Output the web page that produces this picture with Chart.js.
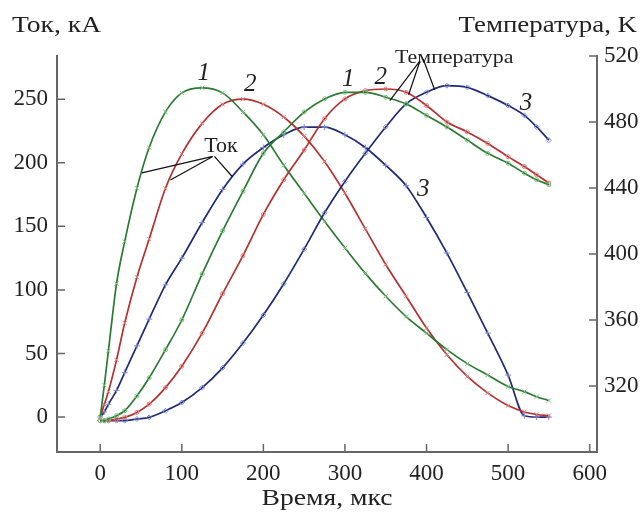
<!DOCTYPE html>
<html><head><meta charset="utf-8">
<script src="https://cdn.jsdelivr.net/npm/chart.js@4.4.0/dist/chart.umd.min.js"></script>
<style>html,body{margin:0;padding:0;background:#fff;}</style>
</head><body>
<canvas id="c" width="644" height="512"></canvas>
<script>
// ---- data ----
const time = [0,5,10,20,30,45,60,80,100,125,150,175,200,225,250,275,300,325,350,375,400,425,450,475,500,520,535,550];
// current, kA
const current1 = [0,25,52,105,138,180,212,240,255,259,255,240,222,198,176,154,133,113,95,79,66,53,42,33,24,20,16,13];
const current2 = [0,10,20,45,74,110,140,180,207,231,246,250,246,236,221,201,176,148,120,95,70,49,32,19,9,4,2,1];
const current3 = [0,4,10,21,35,56,77,104,125,153,179,199,212,222,228,228,222,212,198,182,157,129,98,66,33,1,0,0];
// temperature, K
const temp1 = [299,299,300,302,305,314,325,342,360,388,414,438,461,474,486,494,498,498,495,491,484,477,469,461,455,449,445,442];
const temp2 = [299,299,299,300,301,304,309,319,332,352,376,399,424,445,463,482,494,499,500,498,490,480,474,467,459,453,448,443];
const temp3 = [299,299,299,299,299,300,301,305,310,319,331,346,363,382,403,425,444,461,477,491,498,502,501,496,490,484,477,469];

const xTicks = [0,100,200,300,400,500,600];
const currentTicks = [0,50,100,150,200,250];
const tempTicks = [320,360,400,440,480,520];

const seriesNumbers = ['1','2','3'];
// label anchors (data coords)
const currentNumberPos = [[127,270],[184,262],[396,179]];
const tempNumberPos = [[304,506],[344,507],[522,491]];
const currentNote = {text:'Ток', at:[148,213], from:[[138,205],[138,205],[140,205]], to:[[51,192],[86,186.5],[162,189]]};
const tempNote = {text:'Температура', at:[434,519], from:[[392,517],[392,517],[396,518]], to:[[355,493],[378,496.5],[410,499.5]]};

const GREEN='#2a7a32', RED='#b5302e', BLUE='#1f2a78';
const GREEN_M='#7cbf7c', RED_M='#dc7f7f', BLUE_M='#7d89cc';
const FONT='"Liberation Serif", "DejaVu Serif", serif';

function pts(ys){ return time.map((t,i)=>({x:t,y:ys[i]})); }
function ds(label, ys, axis, col, mcol, style, r){
  return {label, data:pts(ys), yAxisID:axis, borderColor:col, backgroundColor:'rgba(255,255,255,0)',
    pointBorderColor:mcol, pointBackgroundColor:'rgba(255,255,255,0)', pointStyle:style, pointRadius:r,
    pointBorderWidth:1, borderWidth:1.7, showLine:true, fill:false,
    cubicInterpolationMode:'monotone'};
}

function wideText(ctx, s, x, y, align, sx){
  ctx.save();
  ctx.translate(x, y);
  ctx.scale(sx, 1);
  ctx.textAlign = align;
  ctx.fillText(s, 0, 0);
  ctx.restore();
}

const overlay = {
  id:'overlay',
  afterDraw(chart){
    const ctx=chart.ctx, x=chart.scales.x, y=chart.scales.y, y2=chart.scales.y2, ca=chart.chartArea;
    ctx.save();
    // inward tick marks
    ctx.strokeStyle='#666'; ctx.lineWidth=1.5;
    ctx.beginPath();
    xTicks.forEach(v=>{const p=x.getPixelForValue(v); ctx.moveTo(p,ca.bottom); ctx.lineTo(p,ca.bottom-8);});
    currentTicks.forEach(v=>{const p=y.getPixelForValue(v); ctx.moveTo(ca.left,p); ctx.lineTo(ca.left+8,p);});
    tempTicks.forEach(v=>{const p=y2.getPixelForValue(v); ctx.moveTo(ca.right,p); ctx.lineTo(ca.right-8,p);});
    ctx.stroke();
    // axis titles
    ctx.fillStyle='#222';
    ctx.font='24px '+FONT;
    ctx.textBaseline='alphabetic';
    wideText(ctx,'Ток, кА',12,32,'left',1.15);
    wideText(ctx,'Температура, K',637,32,'right',1.12);
    wideText(ctx,'Время, мкс',(ca.left+ca.right)/2,505,'center',1.15);
    // series numbers
    ctx.font='italic 25px '+FONT; ctx.textBaseline='middle'; ctx.textAlign='center';
    seriesNumbers.forEach((s,i)=>{
      ctx.fillText(s, x.getPixelForValue(currentNumberPos[i][0]), y.getPixelForValue(currentNumberPos[i][1]));
      ctx.fillText(s, x.getPixelForValue(tempNumberPos[i][0]), y2.getPixelForValue(tempNumberPos[i][1]));
    });
    // callout labels
    ctx.strokeStyle='#111'; ctx.lineWidth=1.2;
    function note(n, ys, size, sx){
      ctx.font=size+'px '+FONT;
      wideText(ctx, n.text, x.getPixelForValue(n.at[0]), ys.getPixelForValue(n.at[1]), 'center', sx);
      ctx.beginPath();
      n.to.forEach((t,i)=>{
        ctx.moveTo(x.getPixelForValue(n.from[i][0]), ys.getPixelForValue(n.from[i][1]));
        ctx.lineTo(x.getPixelForValue(t[0]), ys.getPixelForValue(t[1]));
      });
      ctx.stroke();
    }
    note(currentNote, y, 20, 1.1);
    note(tempNote, y2, 19, 1.15);
    ctx.restore();
  }
};

const tickFont = {family:FONT, size:23};
const borderOpt = {display:true, color:'#666', width:2};
const gridOpt = {display:true, drawOnChartArea:false, drawTicks:false};

new Chart(document.getElementById('c'), {
  type:'scatter',
  data:{datasets:[
    ds('Температура 1', temp1, 'y2', GREEN, GREEN_M, 'circle', 2),
    ds('Температура 2', temp2, 'y2', RED, RED_M, 'circle', 2),
    ds('Температура 3', temp3, 'y2', BLUE, BLUE_M, 'rectRot', 2.5),
    ds('Ток 1', current1, 'y', GREEN, GREEN_M, 'crossRot', 3),
    ds('Ток 2', current2, 'y', RED, RED_M, 'crossRot', 3),
    ds('Ток 3', current3, 'y', BLUE, BLUE_M, 'cross', 3)
  ]},
  options:{
    responsive:false, animation:false, devicePixelRatio:1,
    layout:{padding:{top:56,left:0,right:0,bottom:0}},
    plugins:{legend:{display:false}, tooltip:{enabled:false}},
    scales:{
      x:{type:'linear', position:'bottom', min:-53, max:609,
        grid:gridOpt, border:borderOpt,
        ticks:{font:tickFont, color:'#222', padding:8, maxRotation:0},
        afterBuildTicks:s=>{s.ticks=xTicks.map(v=>({value:v}));},
        afterFit:s=>{s.height=60;}},
      y:{type:'linear', position:'left', min:-27.5, max:284,
        grid:gridOpt, border:borderOpt,
        ticks:{font:tickFont, color:'#222', padding:9},
        afterBuildTicks:s=>{s.ticks=currentTicks.map(v=>({value:v}));},
        afterFit:s=>{s.width=57;}},
      y2:{type:'linear', position:'right', min:280, max:520,
        grid:gridOpt, border:borderOpt,
        ticks:{font:tickFont, color:'#222', padding:7},
        afterBuildTicks:s=>{s.ticks=tempTicks.map(v=>({value:v}));},
        afterFit:s=>{s.width=47;}}
    }
  },
  plugins:[overlay]
});
</script>
</body></html>
